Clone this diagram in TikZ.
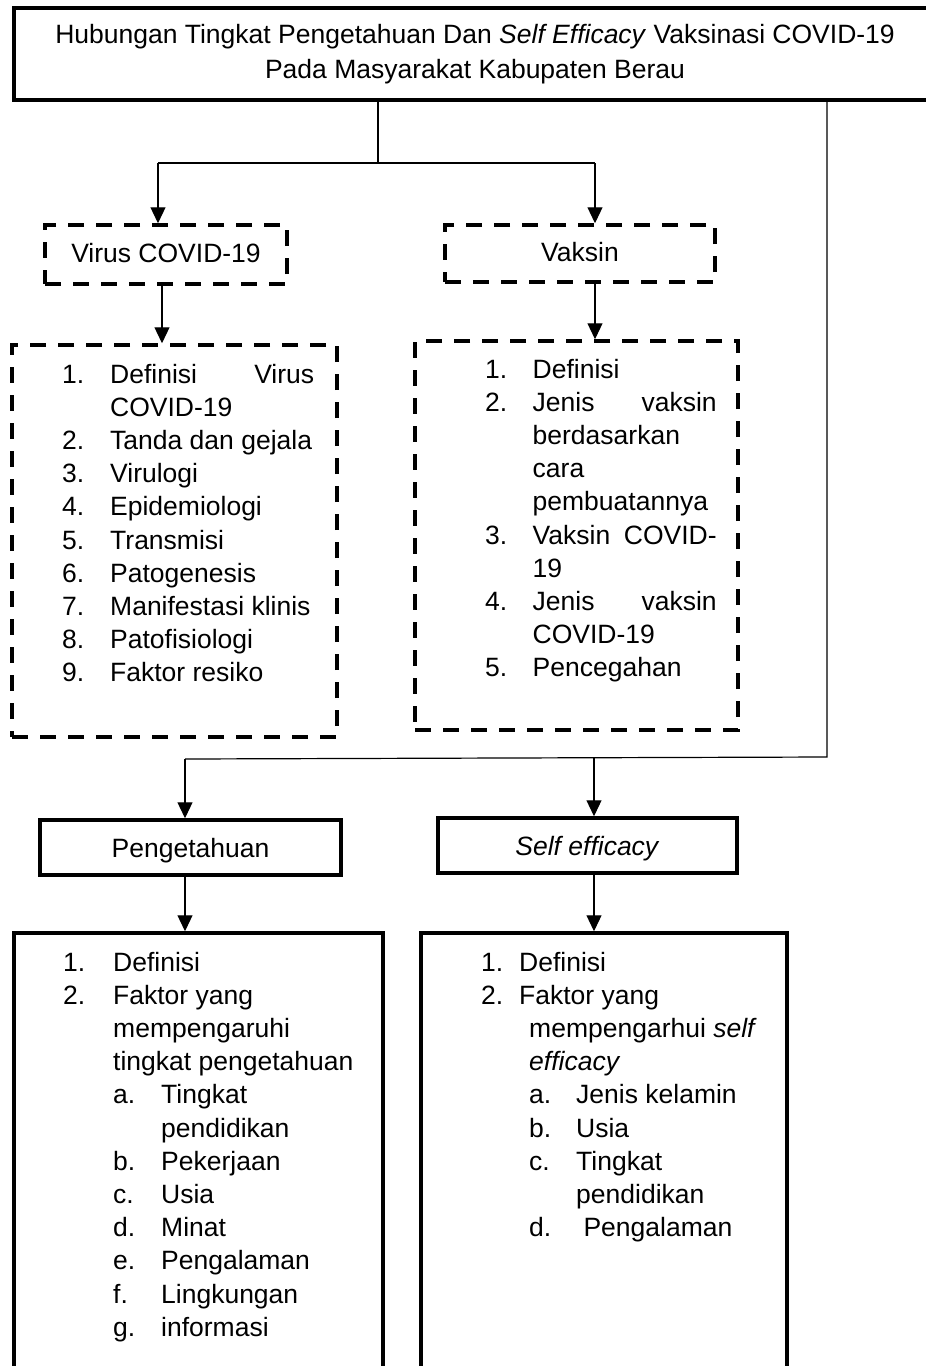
\documentclass[tikz,border=0pt]{standalone}
\usepackage{fontspec}
\setmainfont{Liberation Sans}
\usetikzlibrary{arrows.meta,positioning,calc}

\begin{document}
\begin{tikzpicture}[
  x=1pt,
  y=-1pt,
  font=\fontsize{26.5}{33.2}\selectfont,
  >={Triangle[width=15pt,length=16pt]},
  link/.style={line width=1.2pt, draw=black},
  flow/.style={->, line width=1.2pt, draw=black},
  solidbox/.style={draw=black, line width=3.5pt, inner sep=0pt, align=center},
  dashbox/.style={draw=black, line width=3.5pt, dash pattern=on 16pt off 12pt,
    inner sep=0pt, align=center},
  label/.style={text height=19pt, text depth=0pt},
  items/.style={inner sep=0pt, anchor=base west}
]
\useasboundingbox (0,0) rectangle (926,1366);

\node[solidbox, minimum width=922pt, minimum height=92pt,
  font=\fontsize{26.5}{35}\selectfont] (title) at (475,54)
  {Hubungan Tingkat Pengetahuan Dan \textit{Self Efficacy} Vaksinasi COVID-19\\
   Pada Masyarakat Kabupaten Berau};

\node[dashbox, label, text depth=4pt,
  minimum width=242pt, minimum height=59pt] (virus) at (166,254.5)
  {Virus COVID-19};
\node[dashbox, label, text depth=4pt,
  minimum width=270pt, minimum height=57pt] (vaksin) at (580,253.5)
  {Vaksin};

\node[dashbox, minimum width=325pt, minimum height=392pt] (viruslist) at (174.5,541) {};
\node[dashbox, minimum width=323pt, minimum height=389pt] (vaksinlist) at (576.5,535.5) {};

\node[items] (virustext) at (62,383) {%
  \begin{tabular}[t]{@{}p{48pt}@{}l@{}}
  1. & \makebox[204pt][s]{Definisi Virus}\\
     & COVID-19\\
  2. & Tanda dan gejala\\
  3. & Virulogi\\
  4. & Epidemiologi\\
  5. & Transmisi\\
  6. & Patogenesis\\
  7. & Manifestasi klinis\\
  8. & Patofisiologi\\
  9. & Faktor resiko
  \end{tabular}};

\node[items] (vaksintext) at (485,378) {%
  \begin{tabular}[t]{@{}p{47.5pt}@{}l@{}}
  1. & Definisi\\
  2. & \makebox[184pt][s]{Jenis vaksin}\\
     & berdasarkan\\
     & cara\\
     & pembuatannya\\
  3. & \makebox[184pt][s]{Vaksin COVID-}\\
     & 19\\
  4. & \makebox[184pt][s]{Jenis vaksin}\\
     & COVID-19\\
  5. & Pencegahan
  \end{tabular}};

\node[solidbox, label, minimum width=301pt, minimum height=55pt] (peng) at (190.5,847.5)
  {Pengetahuan};
\node[solidbox, label, minimum width=299pt, minimum height=55pt] (self) at (587.5,845.5)
  {\textit{Self efficacy}};

\node[solidbox, minimum width=369pt, minimum height=467pt] (penglist) at (198.5,1166.5) {};
\node[solidbox, minimum width=366pt, minimum height=467pt] (selflist) at (604,1166.5) {};

\node[items] (pengtext) at (63,971) {%
  \begin{tabular}[t]{@{}p{50pt}@{}l@{}}
  1. & Definisi\\
  2. & Faktor yang\\
     & mempengaruhi\\
     & tingkat pengetahuan\\
     & \makebox[48pt][l]{a.}Tingkat\\
     & \hspace*{48pt}pendidikan\\
     & \makebox[48pt][l]{b.}Pekerjaan\\
     & \makebox[48pt][l]{c.}Usia\\
     & \makebox[48pt][l]{d.}Minat\\
     & \makebox[48pt][l]{e.}Pengalaman\\
     & \makebox[48pt][l]{f.}Lingkungan\\
     & \makebox[48pt][l]{g.}informasi
  \end{tabular}};

\node[items] (selftext) at (481,971) {%
  \begin{tabular}[t]{@{}p{38pt}@{}l@{}}
  1. & Definisi\\
  2. & Faktor yang\\
     & \hspace*{10pt}mempengarhui \textit{self}\\
     & \hspace*{10pt}\textit{efficacy}\\
     & \hspace*{10pt}\makebox[47pt][l]{a.}Jenis kelamin\\
     & \hspace*{10pt}\makebox[47pt][l]{b.}Usia\\
     & \hspace*{10pt}\makebox[47pt][l]{c.}Tingkat\\
     & \hspace*{57pt}pendidikan\\
     & \hspace*{10pt}\makebox[47pt][l]{d.}\ Pengalaman
  \end{tabular}};

\coordinate (split) at (378,163);
\coordinate (toleft) at (158,163);
\coordinate (toright) at (595,163);
\coordinate (corner) at (827,757);
\coordinate (tobottom) at (185,759);
\coordinate (tomid) at (594,758);

\draw[link] (title.south -| split) -- (split);
\draw[link] (toleft) -- (toright);
\draw[flow] (toleft) -- (toleft |- virus.north);
\draw[flow] (toright) -- (toright |- vaksin.north);
\draw[flow] (virus.south -| 162,0) -- (162,0 |- viruslist.north);
\draw[flow] (vaksin.south -| toright) -- (toright |- vaksinlist.north);
\draw[link] (title.south -| corner) -- (corner) -- (tobottom);
\draw[flow] (tobottom) -- (tobottom |- peng.north);
\draw[flow] (tomid) -- (tomid |- self.north);
\draw[flow] (peng.south -| tobottom) -- (tobottom |- penglist.north);
\draw[flow] (self.south -| tomid) -- (tomid |- selflist.north);

\end{tikzpicture}
\end{document}
